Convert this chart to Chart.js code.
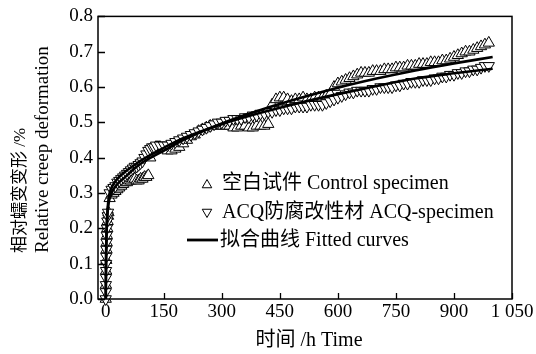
<!DOCTYPE html>
<html><head><meta charset="utf-8">
<script src="https://cdn.jsdelivr.net/npm/chart.js@4.4.0/dist/chart.umd.min.js"></script>
<style>html,body{margin:0;padding:0;background:#fff;}canvas{display:block;}</style>
</head><body>
<canvas id="c" width="536" height="354"></canvas>
<script>
// ---- data ----
const controlPts = [[0,0],[0.5,0.04],[1,0.08],[1.5,0.11],[2,0.14],[2.5,0.16],[3,0.18],[4,0.2],[5,0.22],[6,0.235],[7,0.245],
[10,0.285],[15,0.295],[20,0.3],[25,0.305],[30,0.31],[35,0.315],[40,0.32],[45,0.325],[50,0.33],[55,0.33],[60,0.335],[65,0.335],[70,0.34],[75,0.34],[80,0.335],[85,0.335],[90,0.34],[95,0.34],[100,0.345],[105,0.345],[110,0.35],
[115,0.40],[120,0.42],[125,0.425],[130,0.43],[135,0.43],[140,0.43],[145,0.425],[150,0.425],[155,0.425],[160,0.42],
[170,0.42],[180,0.425],[190,0.43],[200,0.44],[210,0.45],[220,0.46],[230,0.465],[240,0.475],[250,0.48],[260,0.485],[270,0.49],[280,0.49],[290,0.49],[300,0.49],[310,0.49],[320,0.49],[330,0.485],[340,0.485],[350,0.49],[360,0.49],[370,0.485],[380,0.485],[390,0.49],[400,0.49],[410,0.49],[420,0.495],
[430,0.55],[440,0.565],[450,0.57],[460,0.57],[470,0.565],[480,0.56],[490,0.565],[500,0.565],[510,0.57],[520,0.565],[530,0.565],[540,0.57],[550,0.57],[560,0.57],[570,0.575],[580,0.58],
[590,0.6],[600,0.61],[610,0.615],[620,0.62],[630,0.625],[640,0.63],[650,0.635],[660,0.64],[670,0.64],[680,0.64],[690,0.645],[700,0.645],[710,0.645],[720,0.65],[730,0.65],[740,0.65],[750,0.655],[760,0.655],[770,0.655],[780,0.66],[790,0.66],[800,0.66],[810,0.665],[820,0.665],[830,0.665],[840,0.67],[850,0.67],[860,0.67],[870,0.675],[880,0.675],[890,0.68],[900,0.685],[910,0.69],[920,0.695],[930,0.70],[940,0.70],[950,0.705],[960,0.71],[970,0.715],[980,0.72],[990,0.725]];

const acqPts = [[0,0],[0.2,0.02],[0.4,0.04],[0.6,0.06],[0.8,0.08],[1,0.1],[1.3,0.12],[1.6,0.14],[2,0.16],[2.5,0.18],[3,0.2],[4,0.22],[5,0.235],[6,0.245],
[10,0.3],[15,0.31],[20,0.315],[25,0.32],[30,0.33],[35,0.335],[40,0.34],[45,0.345],[50,0.35],[55,0.355],[60,0.36],[65,0.365],[70,0.37],[75,0.375],[80,0.375],[85,0.38],[90,0.385],[95,0.39],[100,0.40],[105,0.41],[110,0.42],[115,0.425],[120,0.43],[125,0.43],[130,0.435],
[140,0.435],[150,0.435],[160,0.435],[170,0.44],[180,0.445],[190,0.45],[200,0.455],[210,0.46],[220,0.465],[230,0.47],[240,0.475],[250,0.48],[260,0.485],[270,0.49],[280,0.495],[290,0.5],[300,0.5],[310,0.505],[320,0.505],[330,0.51],[340,0.51],[350,0.51],[360,0.515],[370,0.515],[380,0.52],[390,0.52],[400,0.525],[410,0.525],[420,0.53],[430,0.53],[440,0.535],[450,0.535],[460,0.54],[470,0.54],[480,0.54],[490,0.545],[500,0.545],[510,0.545],[520,0.545],[530,0.55],[540,0.55],[550,0.55],[560,0.55],[570,0.555],[580,0.56],[590,0.565],[600,0.57],[610,0.575],[620,0.58],[630,0.585],[640,0.585],[650,0.59],[660,0.59],[670,0.59],[680,0.59],[690,0.595],[700,0.595],[710,0.6],[720,0.6],[730,0.6],[740,0.6],[750,0.605],[760,0.605],[770,0.61],[780,0.61],[790,0.615],[800,0.615],[810,0.615],[820,0.62],[830,0.62],[840,0.62],[850,0.625],[860,0.625],[870,0.63],[880,0.63],[890,0.635],[900,0.635],[910,0.64],[920,0.64],[930,0.645],[940,0.645],[950,0.65],[960,0.65],[970,0.655],[980,0.66],[990,0.66]];

const fitT        = [0, 1,   2,   4,   6,   10,   20,   30,   50,   75,   100,  150,  200,  300,  400,  500,  600,  700,  800,  900,  1000];
const fitControlV = [0, 0.12,0.18,0.23,0.26,0.285,0.31, 0.325,0.345,0.37, 0.39, 0.42, 0.45, 0.497,0.535,0.568,0.598,0.624,0.647,0.667,0.685];
const fitAcqV     = [0, 0.13,0.19,0.24,0.27,0.30, 0.325,0.34, 0.36, 0.38, 0.398,0.428,0.455,0.495,0.527,0.555,0.58, 0.603,0.624,0.639,0.652];

const xTickValues = [0,150,300,450,600,750,900,1050];
const xTickLabels = ['0','150','300','450','600','750','900','1 050'];
const yTickValues = [0,0.1,0.2,0.3,0.4,0.5,0.6,0.7,0.8];
const yTickLabels = ['0.0','0.1','0.2','0.3','0.4','0.5','0.6','0.7','0.8'];

const legendLabels = ['空白试件 Control specimen','ACQ防腐改性材 ACQ-specimen','拟合曲线 Fitted curves'];
const xTitle = '时间 /h Time';
const yTitleLines = ['相对蠕变变形 /%','Relative creep deformation'];

const FONT = "'Liberation Serif','Noto Sans CJK SC',serif";
const toXY = p => ({x:p[0], y:p[1]});

function tri(ctx, x, y, r, down){
  let rad = down ? Math.PI : 0;
  ctx.beginPath();
  for(let k=0;k<3;k++){
    const px = x + Math.sin(rad)*r, py = y - Math.cos(rad)*r;
    if(k===0) ctx.moveTo(px,py); else ctx.lineTo(px,py);
    rad += 2*Math.PI/3;
  }
  ctx.closePath();
  ctx.fillStyle='#fff'; ctx.fill();
  ctx.strokeStyle='#000'; ctx.lineWidth=1; ctx.stroke();
}

const deco = {
  id:'deco',
  afterDraw(chart){
    const {ctx, chartArea:a, scales} = chart;
    const xs = scales.x, ys = scales.y;
    ctx.save();
    ctx.strokeStyle='#000';
    ctx.lineWidth=1.5;
    ctx.strokeRect(a.left, a.top, a.right-a.left, a.bottom-a.top);
    ctx.lineWidth=1.3;
    ctx.beginPath();
    xTickValues.forEach(v=>{const px=Math.round(xs.getPixelForValue(v))+0.5; ctx.moveTo(px,a.bottom); ctx.lineTo(px,a.bottom-6);});
    yTickValues.forEach(v=>{const py=Math.round(ys.getPixelForValue(v))+0.5; ctx.moveTo(a.left,py); ctx.lineTo(a.left+7,py);});
    ctx.stroke();
    // axis titles
    ctx.fillStyle='#000';
    ctx.font = '20px '+FONT;
    ctx.textAlign='center'; ctx.textBaseline='middle';
    ctx.fillText(xTitle, 309, 341);
    ctx.save();
    ctx.translate(21, 253); ctx.rotate(-Math.PI/2);
    ctx.textAlign='left';
    ctx.font = '17px '+FONT;
    ctx.fillText(yTitleLines[0], 0, 0);
    ctx.restore();
    ctx.save();
    ctx.translate(43, 253); ctx.rotate(-Math.PI/2);
    ctx.textAlign='left';
    ctx.font = '19px '+FONT;
    ctx.fillText(yTitleLines[1], 0, 0);
    ctx.restore();
    // legend
    tri(ctx, 207, 185, 5.5, false);
    tri(ctx, 207, 212, 5.5, true);
    ctx.beginPath(); ctx.lineWidth=2.8; ctx.moveTo(187,240); ctx.lineTo(218,240); ctx.stroke();
    ctx.fillStyle='#000';
    ctx.font = '20px '+FONT;
    ctx.textAlign='left'; ctx.textBaseline='middle';
    ctx.fillText(legendLabels[0], 222, 184);
    ctx.fillText(legendLabels[1], 222, 213);
    ctx.fillText(legendLabels[2], 220, 241);
    ctx.restore();
  }
};

const markerCommon = {
  showLine:false, pointStyle:'triangle', pointRadius:6.5, pointHoverRadius:6.5,
  pointBackgroundColor:'#fff', pointBorderColor:'#000', pointBorderWidth:1, clip:false
};

new Chart(document.getElementById('c'), {
  type:'scatter',
  data:{datasets:[
    Object.assign({label:legendLabels[0], data:controlPts.map(toXY), order:2, pointRotation:0}, markerCommon),
    Object.assign({label:legendLabels[1], data:acqPts.map(toXY), order:1, pointRotation:180}, markerCommon),
    {label:'fitC', data:fitT.map((t,i)=>({x:t,y:fitControlV[i]})), showLine:true, borderColor:'#000', borderWidth:2.6, pointRadius:0, cubicInterpolationMode:'monotone', order:0},
    {label:'fitA', data:fitT.map((t,i)=>({x:t,y:fitAcqV[i]})), showLine:true, borderColor:'#000', borderWidth:2.6, pointRadius:0, cubicInterpolationMode:'monotone', order:0}
  ]},
  options:{
    responsive:false, animation:false, devicePixelRatio:1,
    layout:{padding:{left:0,right:24,top:15,bottom:0}},
    plugins:{legend:{display:false}, tooltip:{enabled:false}},
    scales:{
      x:{type:'linear', min:-20, max:1050,
        afterFit(s){ s.height = 55; },
        afterBuildTicks(s){ s.ticks = xTickValues.map(v=>({value:v})); },
        grid:{display:true, drawOnChartArea:false, drawTicks:false},
        border:{display:false},
        ticks:{padding:2, color:'#000', font:{family:FONT, size:19}, maxRotation:0, autoSkip:false,
          callback:(v,i)=>xTickLabels[i]}
      },
      y:{type:'linear', min:0, max:0.8,
        afterFit(s){ s.width = 98; },
        afterBuildTicks(s){ s.ticks = yTickValues.map(v=>({value:v})); },
        grid:{display:true, drawOnChartArea:false, drawTicks:false},
        border:{display:false},
        ticks:{padding:5, color:'#000', font:{family:FONT, size:19}, autoSkip:false,
          callback:(v,i)=>yTickLabels[i]}
      }
    }
  },
  plugins:[deco]
});
</script>
</body></html>
